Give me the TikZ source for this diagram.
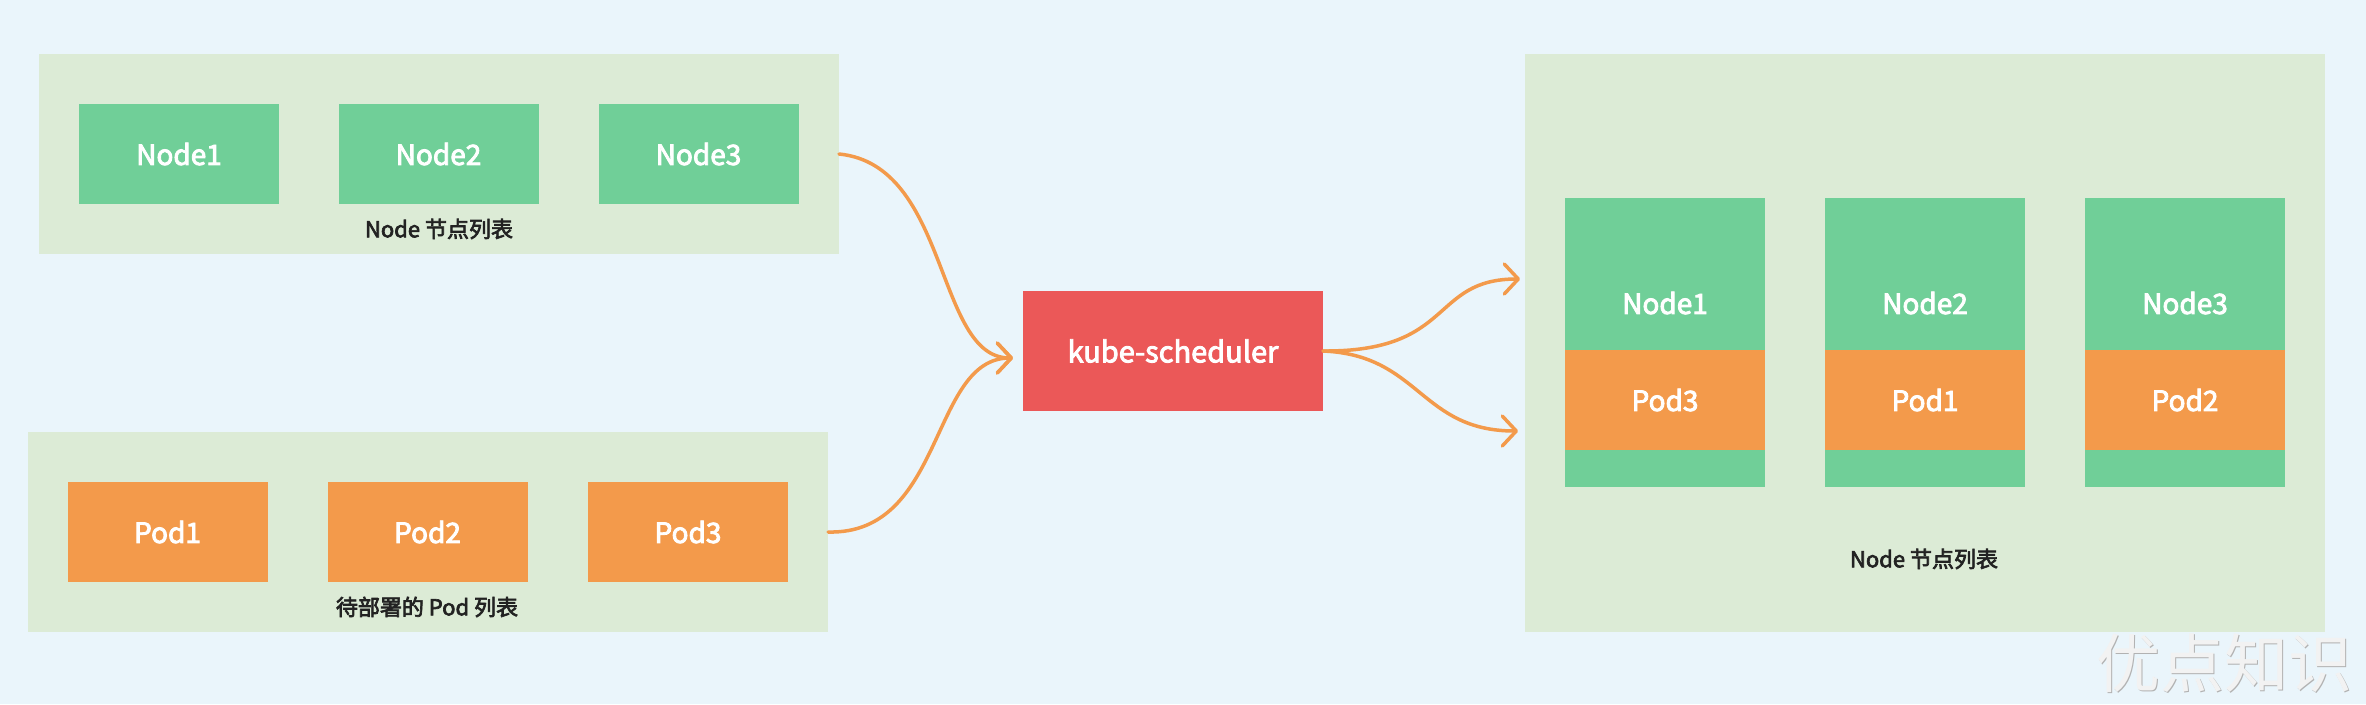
\documentclass[tikz,border=0pt]{standalone}
\usepackage{fontspec}
\setmainfont{Noto Sans CJK SC}
\newfontfamily\medf[FakeBold=3]{Noto Sans CJK SC}
\usetikzlibrary{arrows.meta}
\definecolor{bg}{HTML}{EAF5FB}
\definecolor{panelc}{HTML}{DCEBD6}
\definecolor{greenc}{HTML}{70CF98}
\definecolor{orangec}{HTML}{F39A4B}
\definecolor{redc}{HTML}{EB5858}
\definecolor{darktext}{HTML}{222222}
\definecolor{flowc}{HTML}{F39A4B}
\begin{document}
\begin{tikzpicture}[x=1pt,y=-1pt,
  panel/.style={fill=panelc,draw=none,inner sep=0pt,outer sep=0pt},
  nodebox/.style={fill=greenc,draw=none,inner sep=0pt,outer sep=0pt,minimum width=200pt,minimum height=100pt,text=white,font=\fontsize{28}{30}\selectfont\medf},
  podbox/.style={fill=orangec,draw=none,inner sep=0pt,outer sep=0pt,minimum width=200pt,minimum height=100pt,text=white,font=\fontsize{28}{30}\selectfont\medf},
  whitetext/.style={text=white,inner sep=0pt,font=\fontsize{28}{30}\selectfont\medf},
  caption/.style={text=darktext,inner sep=0pt,font=\fontsize{22}{24}\selectfont\medf},
  flow/.style={draw=flowc,line width=3.5pt,line cap=round,-{Straight Barb[length=14pt,width=30pt,round]}}
]
\fill[bg] (0,0) rectangle (2366,704);
\useasboundingbox (0,0) rectangle (2366,704);

% top-left panel
\node[panel,minimum width=800pt,minimum height=200pt] (top) at (439,154) {};
\node[nodebox] (tn1) at (179,154) {Node1};
\node[nodebox] (tn2) at (438.5,154) {Node2};
\node[nodebox] (tn3) at (698.5,154) {Node3};
\node[caption] (toplab) at (439,229) {Node 节点列表};

% bottom-left panel
\node[panel,minimum width=800pt,minimum height=200pt] (bot) at (428,532) {};
\node[podbox] (bp1) at (167.5,532) {Pod1};
\node[podbox] (bp2) at (427.5,532) {Pod2};
\node[podbox] (bp3) at (688,532) {Pod3};
\node[caption] (botlab) at (427,607) {待部署的 Pod 列表};

% scheduler
\node[fill=redc,inner sep=0pt,outer sep=0pt,minimum width=300pt,minimum height=120pt,text=white,font=\fontsize{29}{31}\selectfont\medf] (sched) at (1173,351) {kube-scheduler};

% right panel
\node[panel,minimum width=800pt,minimum height=578pt] (right) at (1925,343) {};
\foreach \cx/\nn/\pp/\id in {1665/Node1/Pod3/1, 1925/Node2/Pod1/2, 2185/Node3/Pod2/3}{
  \node[nodebox,minimum height=289pt] (col\id) at (\cx,342.5) {};
  \node[podbox] (cpod\id) at (\cx,400) {\pp};
  \node[whitetext] (cnode\id) at (\cx,303) {\nn};
}
\node[caption] (rightlab) at (1924,559) {Node 节点列表};

% connectors
\coordinate (in) at (1013,358);
\coordinate (o1) at (1520,279);
\coordinate (o2) at (1518,431);
\draw[flow] (top.east) .. controls (950,165) and (935,358) .. (in);
\draw[flow] (bot.east) .. controls (945,535) and (930,358) .. (in);
\draw[flow] (sched.east) .. controls (1455,352) and (1430,279) .. (o1);
\draw[flow] (sched.east) .. controls (1420,355) and (1420,431) .. (o2);

% watermark
\node[text=black!30,inner sep=0pt,font=\fontsize{64}{66}\selectfont] (wmshadow) at (2225.5,664.5) {优点知识};
\node[text=black!5,inner sep=0pt,font=\fontsize{64}{66}\selectfont] (wm) at (2224,663) {优点知识};
\end{tikzpicture}
\end{document}
